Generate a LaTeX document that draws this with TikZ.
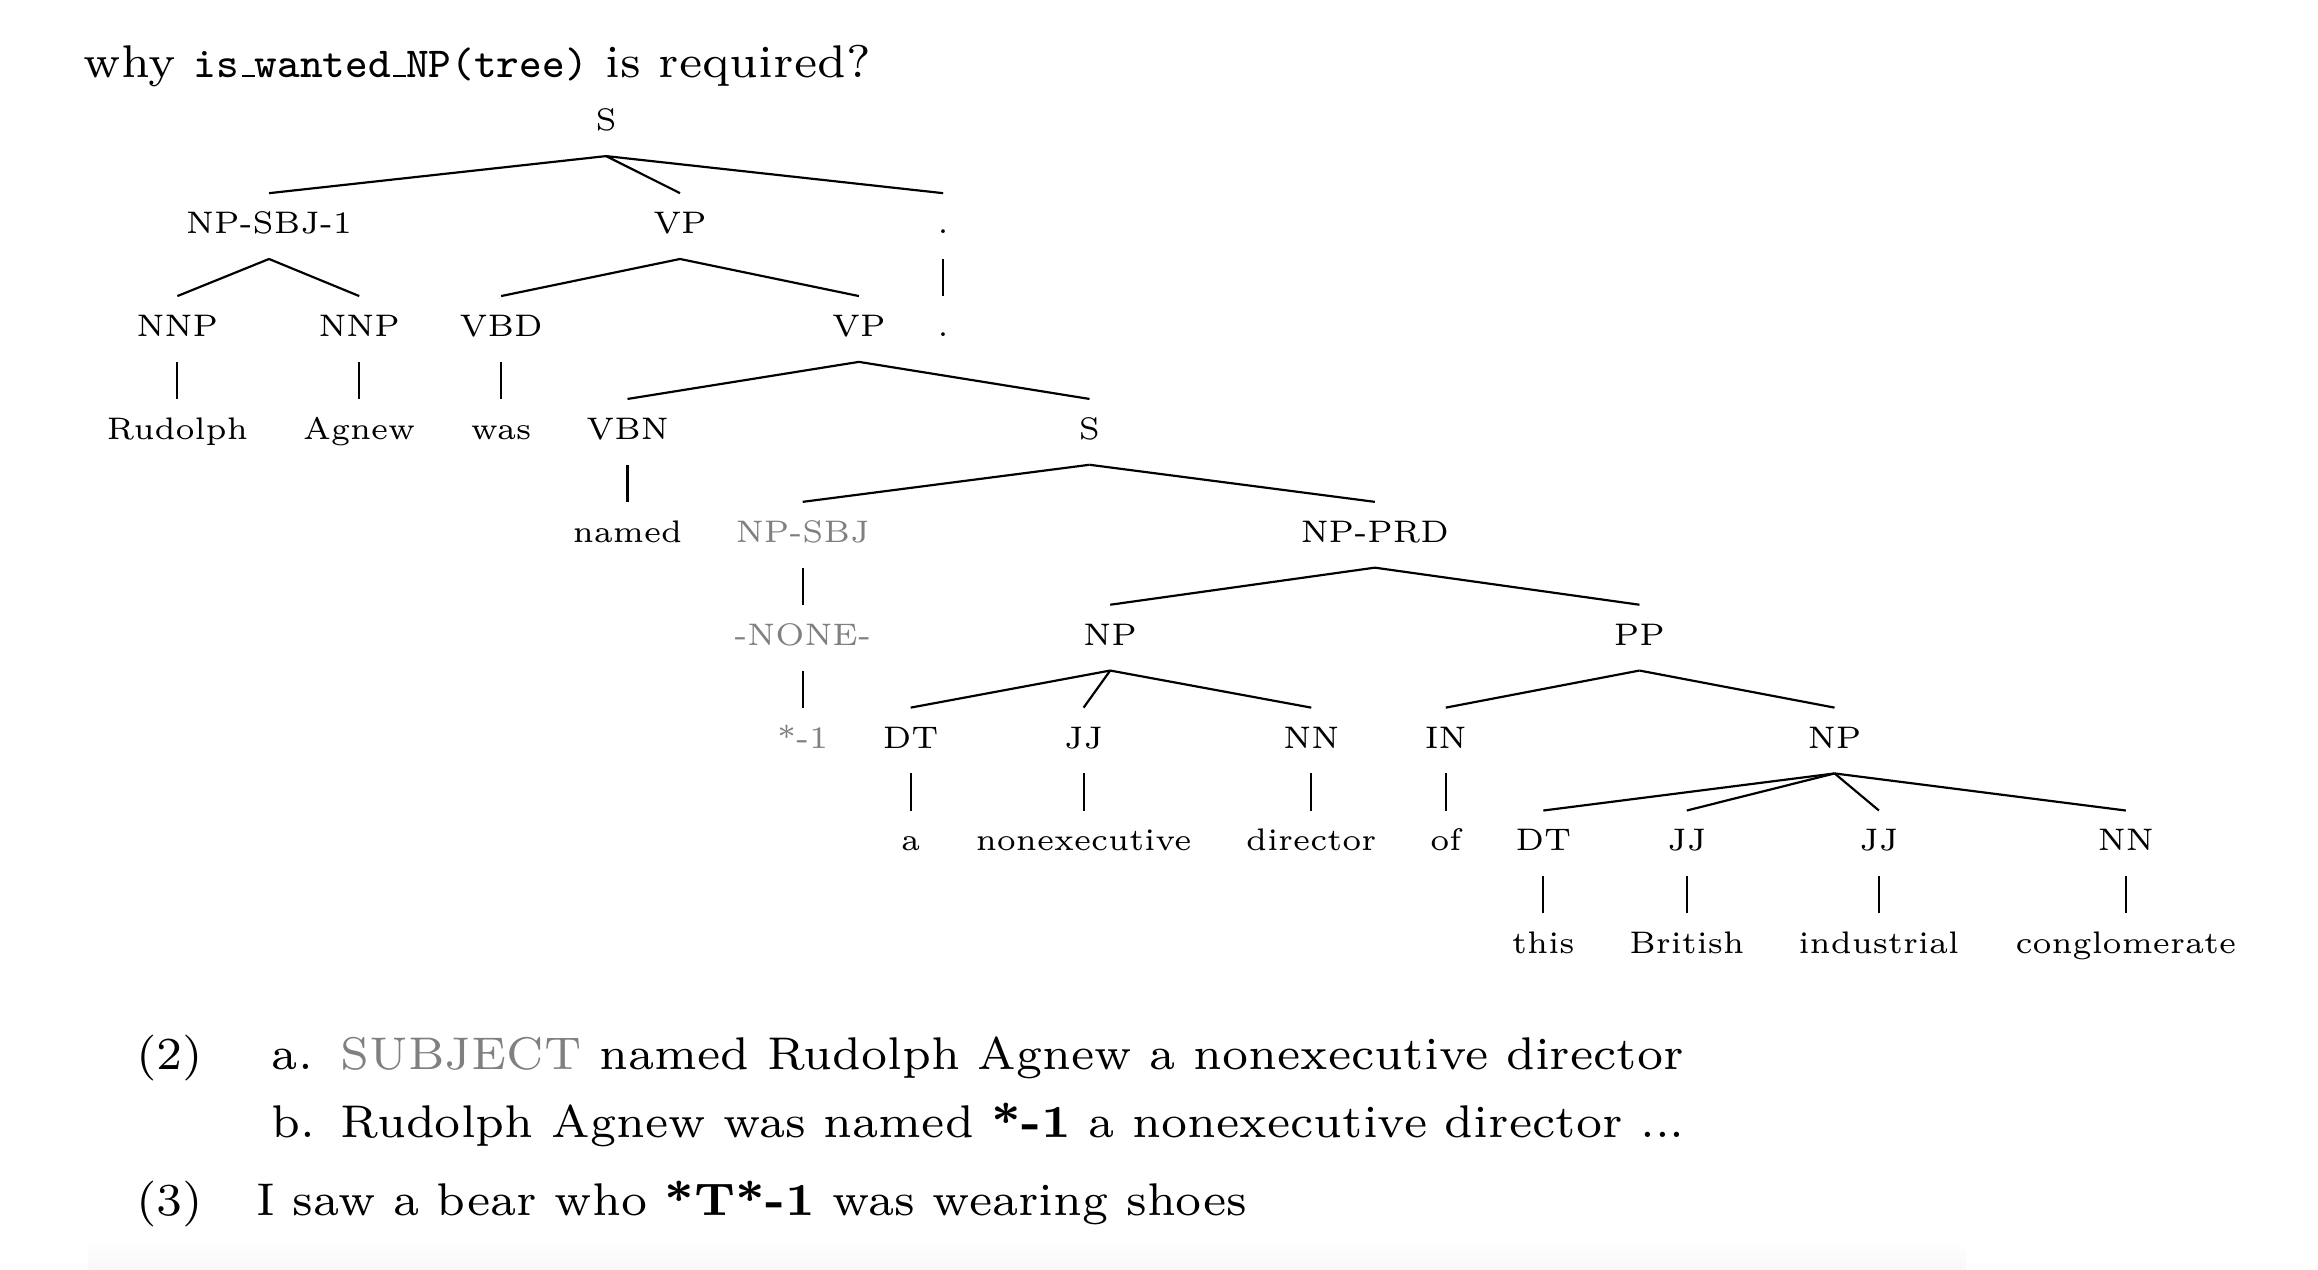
\documentclass[tikz,border=0pt]{standalone}
\font\treefont="[lmroman6-regular.otf]" at 5pt
\newcommand\uscore{\leavevmode\kern.06em\vbox{\hrule width.3em}}
\tikzstyle{cat} = [inner xsep=1pt, inner ysep=2.9pt, text height=3.4pt, text depth=1pt, anchor=base, font=\treefont]
\tikzstyle{trace} = [cat, text=black!50]
\tikzstyle{ex} = [anchor=base west, inner sep=0pt, font=\fontsize{7.35}{8.8}\selectfont]

\begin{document}
\begin{tikzpicture}[x=0.237pt,y=-0.237pt,line width=0.35pt]
\useasboundingbox (0,0) rectangle (1568,859);

\node[ex] (title) at (56,52.3) {why {\fontsize{6.85}{8}\selectfont\texttt{is\uscore wanted\uscore NP(tree)}} is required?};

\node[cat] (0) at (410,88.4) {S};

\node[cat] (11) at (182,158) {NP-SBJ-1};
\node[cat] (12) at (460,158) {VP};
\node[cat] (13) at (638,158) {.};

\node[cat] (21) at (120,227.6) {NNP};
\node[cat] (22) at (243,227.6) {NNP};
\node[cat] (23) at (339,227.6) {VBD};
\node[cat] (24) at (581,227.6) {VP};
\node[cat] (25) at (638,227.6) {.};

\node[cat] (31) at (120,297.2) {Rudolph};
\node[cat] (32) at (243,297.2) {Agnew};
\node[cat] (33) at (339,297.2) {was};
\node[cat] (34) at (424.5,297.2) {VBN};
\node[cat] (35) at (737,297.2) {S};

\node[cat] (41) at (424.5,366.8) {named};
\node[trace] (42) at (543,366.8) {NP-SBJ};
\node[cat] (43) at (930,366.8) {NP-PRD};

\node[trace] (51) at (543,436.4) {-NONE-};
\node[cat] (52) at (751,436.4) {NP};
\node[cat] (53) at (1109,436.4) {PP};

\node[trace] (61) at (543,506) {*-1};
\node[cat] (62) at (616,506) {DT};
\node[cat] (63) at (733,506) {JJ};
\node[cat] (64) at (887,506) {NN};
\node[cat] (65) at (978,506) {IN};
\node[cat] (66) at (1241,506) {NP};

\node[cat] (71) at (616,575.6) {a};
\node[cat] (72) at (733,575.6) {nonexecutive};
\node[cat] (73) at (887,575.6) {director};
\node[cat] (74) at (978,575.6) {of};
\node[cat] (75) at (1044,575.6) {DT};
\node[cat] (76) at (1141,575.6) {JJ};
\node[cat] (77) at (1271,575.6) {JJ};
\node[cat] (78) at (1438,575.6) {NN};

\node[cat] (81) at (1044,645.2) {this};
\node[cat] (82) at (1141,645.2) {British};
\node[cat] (83) at (1271,645.2) {industrial};
\node[cat] (84) at (1438,645.2) {conglomerate};

\path
(0.south) edge (11.north)
(0.south) edge (12.north)
(0.south) edge (13.north);

\path
(11.south) edge (21.north)
(11.south) edge (22.north)
(12.south) edge (23.north)
(12.south) edge (24.north)
(13.south) edge (25.north);

\path
(21.south) edge (31.north)
(22.south) edge (32.north)
(23.south) edge (33.north)
(24.south) edge (34.north)
(24.south) edge (35.north);

\path
(34.south) edge (41.north)
(35.south) edge (42.north)
(35.south) edge (43.north);

\path
(42.south) edge (51.north)
(43.south) edge (52.north)
(43.south) edge (53.north);

\path
(51.south) edge (61.north)
(52.south) edge (62.north)
(52.south) edge (63.north)
(52.south) edge (64.north)
(53.south) edge (65.north)
(53.south) edge (66.north);

\path
(62.south) edge (71.north)
(63.south) edge (72.north)
(64.south) edge (73.north)
(65.south) edge (74.north)
(66.south) edge (75.north)
(66.south) edge (76.north)
(66.south) edge (77.north)
(66.south) edge (78.north);

\path
(75.south) edge (81.north)
(76.south) edge (82.north)
(77.south) edge (83.north)
(78.south) edge (84.north);

\node[ex] (n2) at (91.3,723.3) {(2)};
\node[ex] (n2a) at (183.2,723.3) {a.};
\node[ex] (s2a) at (229.6,723.3) {\textcolor{black!50}{SUBJECT} named Rudolph Agnew a nonexecutive director};
\node[ex] (n2b) at (183.2,769.3) {b.};
\node[ex] (s2b) at (229.6,769.3) {Rudolph Agnew was named \textbf{*-1} a nonexecutive director ...};
\node[ex] (n3) at (91.3,822) {(3)};
\node[ex] (s3) at (172.5,822) {I saw a bear who \textbf{*T*-1} was wearing shoes};

\shade[top color=white, bottom color=black!3, draw=none] (60,840) rectangle (1330,859);

\end{tikzpicture}
\end{document}
